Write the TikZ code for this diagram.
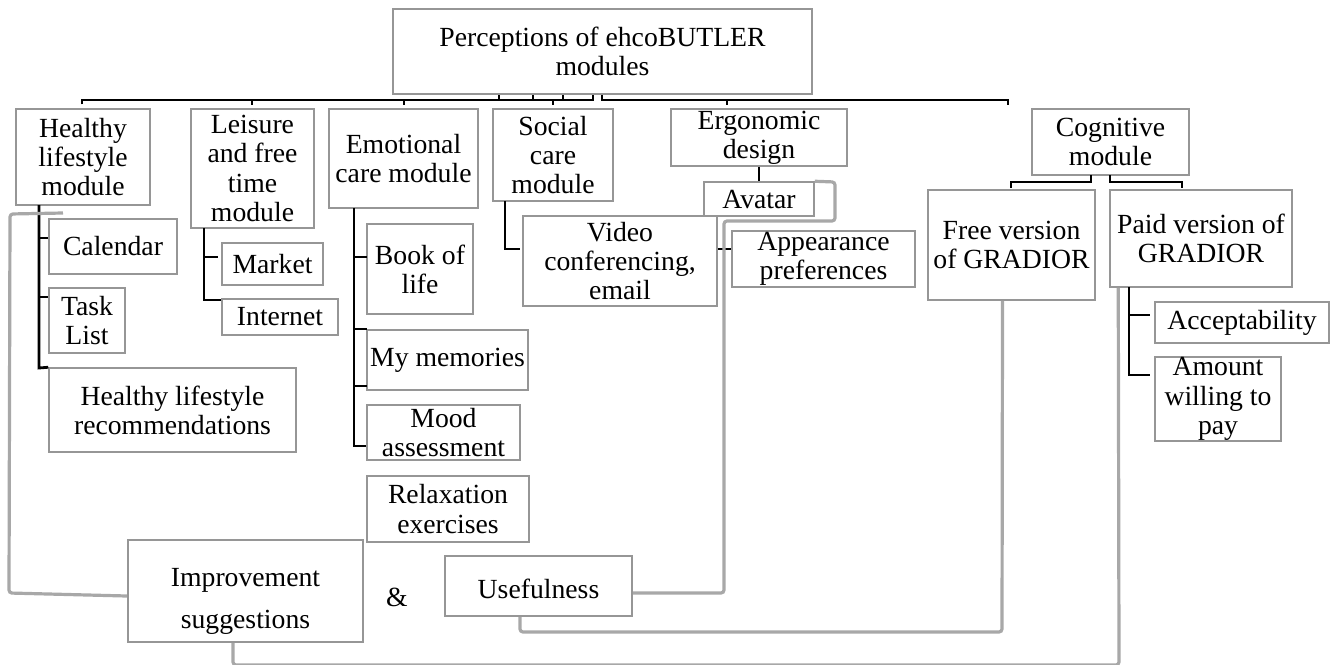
\documentclass[tikz,border=0pt]{standalone}
\usepackage{fontspec}
\setmainfont{Liberation Serif}
\usetikzlibrary{calc}
\definecolor{bgray}{RGB}{150,150,150}
\definecolor{lgray}{RGB}{168,168,168}
\tikzset{
  txt/.style={font=\fontsize{13.85pt}{14.6pt}\selectfont},
  box/.style={txt, draw=bgray, line width=0.75pt, inner sep=0pt, align=center},
  boxb/.style={line width=1.2pt},
  blk/.style={line width=1.4pt, black},
  gln/.style={line width=1.6pt, lgray, rounded corners=1.5pt},
}
\newcommand\bx[7][]{\node[box,#1, minimum width={(#5-#3)*0.5pt}, minimum height={(#6-#4)*0.5pt}] (#2) at ({(#3+#5)/2},{(#4+#6)/2}) {#7};}
\begin{document}
\begin{tikzpicture}[x=0.5pt,y=-0.5pt]
\useasboundingbox (0,0) rectangle (1331,664);
\clip (0,0) rectangle (1331,664);
% boxes
\bx{top}{393}{9}{812}{94}{Perceptions of ehcoBUTLER\\modules}
\bx{hl}{16}{109}{150}{205}{Healthy\\lifestyle\\module}
\bx{lf}{191}{109}{314}{228}{Leisure\\and free\\time\\module}
\bx{em}{329}{109}{478}{208}{Emotional\\care module}
\bx{sc}{493}{109}{613}{201}{Social\\care\\module}
\bx{er}{671}{109}{847}{166}{Ergonomic\\design}
\bx{cg}{1032}{109}{1189}{175}{Cognitive\\module}
\bx{cal}{49}{219}{177}{274}{Calendar}
\bx{task}{49}{288}{125}{353}{Task\\List}
\bx{hlr}{49}{368}{296}{452}{Healthy lifestyle\\recommendations}
\bx{mk}{222}{243}{323}{285}{Market}
\bx{inet}{222}{299}{338}{335}{Internet}
\bx{book}{367}{224}{473}{314}{Book of\\life}
\bx{mem}{367}{330}{528}{390}{My memories}
\bx{mood}{367}{405}{520}{460}{Mood\\assessment}
\bx{relax}{367}{476}{529}{542}{Relaxation\\exercises}
\bx{vid}{523}{216}{717}{306}{Video\\conferencing,\\email}
\bx{av}{704}{182}{814}{216}{Avatar}
\bx{app}{732}{231}{915}{287}{Appearance\\preferences}
\bx{free}{928}{190}{1095}{300}{Free version\\of GRADIOR}
\bx{paid}{1110}{190}{1292}{287}{Paid version of\\GRADIOR}
\bx{acc}{1155}{302}{1329}{343}{Acceptability}
\bx{amt}{1155}{357}{1281}{441}{Amount\\willing to\\pay}
\bx[boxb, font=\fontsize{13.85pt}{21pt}\selectfont]{imp}{128}{540}{363}{642}{\raisebox{-4pt}[\height][\depth]{\begin{tabular}{@{}c@{}}Improvement\\suggestions\end{tabular}}}
\bx[boxb]{use}{445}{556}{632}{616}{\raisebox{-1.5pt}[\height][\depth]{Usefulness}}
\node[txt] (amp) at (397,597) {\&};
% top bus
\coordinate (bL) at (82,100);
\coordinate (bM) at (593,100);
\coordinate (bN) at (602,100);
\coordinate (bR) at (1008,100);
\draw[blk] ($(hl.north)+(-1,-4)$) -- (bL) -- (bM) -- (bM |- top.south);
\draw[blk] (bN |- top.south) -- (bN) -- (bR) -- ($(bR)+(0,5)$);
\foreach \x in {499,533,563} \draw[blk] (\x,100) -- (\x,0 |- top.south);
\foreach \x in {252,404,553,727} \draw[blk] (\x,100) -- (\x,105);
% healthy lifestyle children
\draw[blk] (39,205) -- (39,368) -- (hlr.north west);
\draw[blk] (39,238) -- (cal.west |- 0,238);
\draw[blk] (39,297) -- (task.west |- 0,297);
% leisure children
\draw[blk] (204,228) -- (204,300) -- (inet.west |- 0,300);
\draw[blk] (204,257) -- (218,257);
% emotional children
\draw[blk] (354,208) -- (354,446) -- (mood.west |- 0,446);
\foreach \y in {257,329,386} \draw[blk] (354,\y) -- (367,\y);
% social
\draw[blk] (505,201) -- (505,249) -- (520,249);
% ergonomic
\draw[blk] (er.south) -- (av.north -| er.south);
\draw[blk] (vid.east |- 0,249) -- (app.west |- 0,249);
% cognitive
\draw[blk] (1091,175) -- (1091,182) -- (1011,182) -- (1011,188);
\draw[blk] (1110,175) -- (1110,182) -- (1182,182) -- (1182,188);
% paid children
\draw[blk] (1129,287) -- (1129,375) -- (1150,375);
\draw[blk] (1129,315) -- (1150,315);
% grey connectors
\draw[gln] (63,213) -- (10,214) -- (9,593) -- ($(imp.west)+(0,5)$);
\draw[gln] (av.north east) -- (835,182) -- (835,221) -- (724,221) -- (724,593) -- ($(use.east)+(0,7)$);
\draw[gln] ($(free.south)+(-9,0)$) -- (1002,632) -- (520,632) -- (use.south -| 520,0);
\draw[gln] ($(paid.south west)+(9,0)$) -- (1119,665) -- (233,665) -- (imp.south -| 233,0);
\end{tikzpicture}
\end{document}
